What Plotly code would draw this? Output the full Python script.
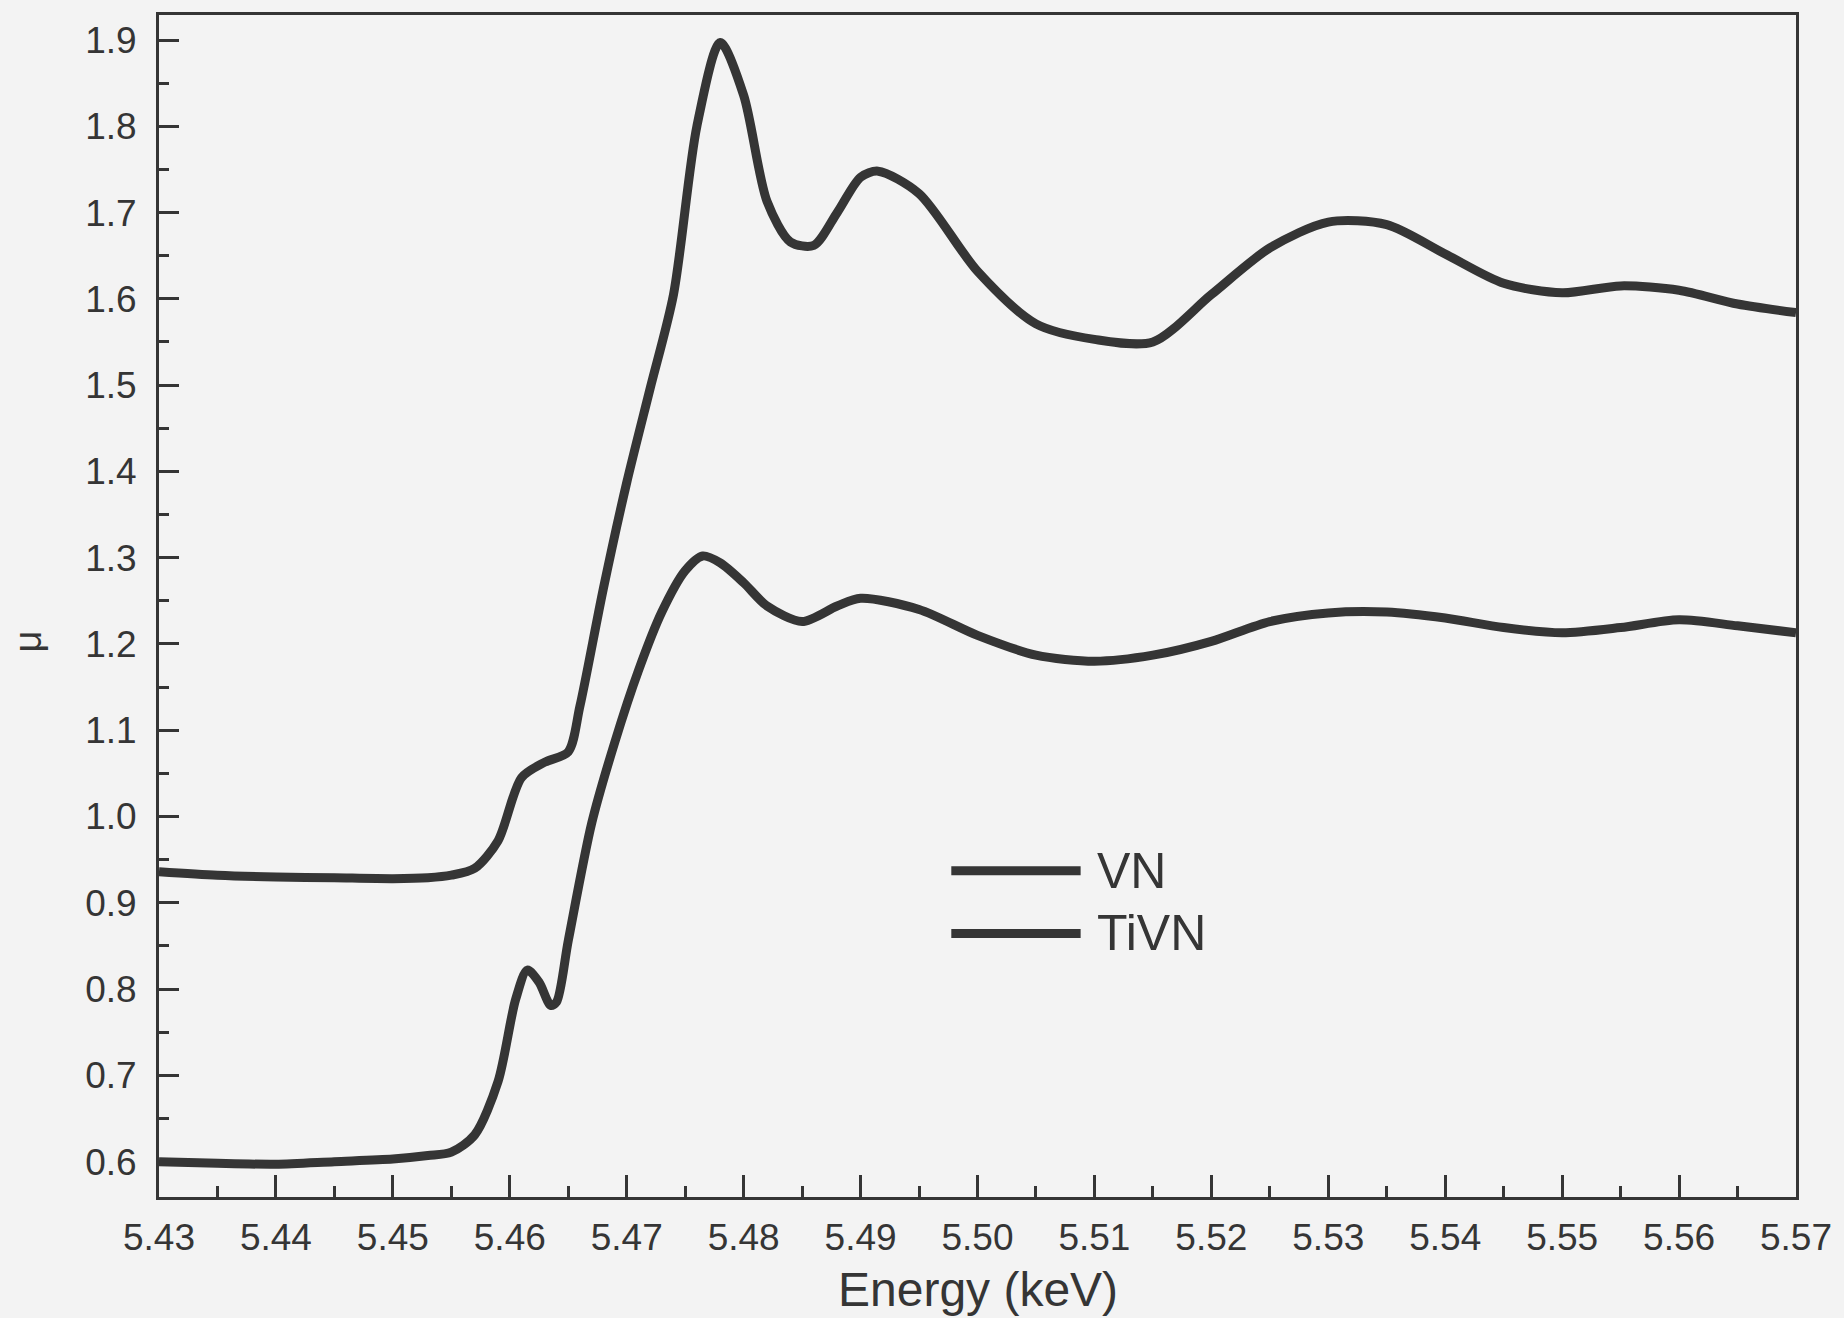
import plotly.graph_objects as go

# Upper curve
vn_x = [5.430, 5.435, 5.440, 5.445, 5.450, 5.453, 5.455, 5.457, 5.459, 5.461, 5.463, 5.465,
        5.466, 5.468, 5.470, 5.472, 5.474, 5.476, 5.478, 5.480, 5.482, 5.484, 5.486, 5.488,
        5.490, 5.4915, 5.495, 5.500, 5.505, 5.510, 5.515, 5.520, 5.525, 5.530, 5.535, 5.540,
        5.545, 5.550, 5.555, 5.560, 5.565, 5.570]
vn_y = [0.936, 0.932, 0.930, 0.929, 0.928, 0.929, 0.932, 0.940, 0.972, 1.045, 1.063, 1.075,
        1.128, 1.264, 1.387, 1.496, 1.605, 1.800, 1.897, 1.836, 1.713, 1.666, 1.662, 1.700,
        1.741, 1.748, 1.722, 1.632, 1.571, 1.553, 1.550, 1.605, 1.659, 1.689, 1.686, 1.652,
        1.618, 1.607, 1.615, 1.610, 1.594, 1.584]

# Lower curve
tivn_x = [5.430, 5.435, 5.440, 5.445, 5.450, 5.453, 5.455, 5.457, 5.459, 5.4605, 5.4615, 5.4625,
          5.4635, 5.464, 5.465, 5.467, 5.469, 5.471, 5.473, 5.475, 5.4765, 5.478, 5.480, 5.482,
          5.485, 5.488, 5.490, 5.495, 5.500, 5.505, 5.510, 5.515, 5.520, 5.525, 5.530, 5.535,
          5.540, 5.545, 5.550, 5.555, 5.560, 5.565, 5.570]
tivn_y = [0.600, 0.598, 0.597, 0.600, 0.603, 0.607, 0.611, 0.631, 0.693, 0.788, 0.822, 0.808,
          0.781, 0.785, 0.856, 0.992, 1.087, 1.169, 1.237, 1.285, 1.302, 1.294, 1.271, 1.244,
          1.226, 1.244, 1.253, 1.240, 1.210, 1.187, 1.180, 1.187, 1.203, 1.226, 1.236, 1.237,
          1.230, 1.219, 1.213, 1.219, 1.228, 1.221, 1.213]

series_names = ["VN", "TiVN"]

x_ticks = [5.43, 5.44, 5.45, 5.46, 5.47, 5.48, 5.49, 5.50, 5.51, 5.52, 5.53, 5.54, 5.55, 5.56, 5.57]
y_ticks = [0.6, 0.7, 0.8, 0.9, 1.0, 1.1, 1.2, 1.3, 1.4, 1.5, 1.6, 1.7, 1.8, 1.9]

INK = "#353535"
BG = "#f3f3f3"
FONT = "Liberation Sans, Arial, sans-serif"

fig = go.Figure()
for name, xs, ys in [(series_names[0], vn_x, vn_y), (series_names[1], tivn_x, tivn_y)]:
    fig.add_trace(go.Scatter(x=xs, y=ys, mode="lines", name=name,
                             line=dict(color=INK, width=9, shape="spline", smoothing=0.8),
                             showlegend=False))

axis_common = dict(showline=True, linecolor=INK, linewidth=3, mirror=True,
                   ticks="inside", tickcolor=INK, tickwidth=3, showgrid=False,
                   zeroline=False, tickfont=dict(family=FONT, size=37, color=INK))

fig.update_xaxes(range=[5.43, 5.57], tickvals=x_ticks,
                 ticktext=[f"{v:.2f}" for v in x_ticks], ticklen=22,
                 minor=dict(dtick=0.005, ticks="inside", ticklen=11, tickwidth=3, tickcolor=INK),
                 ticklabelstandoff=6,
                 **axis_common)
fig.update_yaxes(range=[0.559, 1.929], tickvals=y_ticks,
                 ticktext=[f"{v:.1f}" for v in y_ticks], ticklen=20,
                 minor=dict(dtick=0.05, ticks="inside", ticklen=10, tickwidth=3, tickcolor=INK),
                 ticklabelstandoff=12,
                 **axis_common)

# axis titles placed as in the original
fig.add_annotation(xref="paper", yref="paper", x=0.5, y=-0.1015, text="Energy (keV)",
                   showarrow=False, xanchor="center", yanchor="bottom", borderpad=0,
                   font=dict(family=FONT, size=48, color=INK))
fig.add_annotation(xref="paper", yref="paper", x=-0.080, y=0.470, text="μ", textangle=-90,
                   showarrow=False, xanchor="center", yanchor="middle",
                   font=dict(family=FONT, size=38, color=INK))

# custom legend (long sample lines as in the original)
legend_rows = [(0.276, series_names[0]), (0.223, series_names[1])]
for yy, name in legend_rows:
    fig.add_shape(type="line", xref="paper", yref="paper", x0=0.484, x1=0.563, y0=yy, y1=yy,
                  line=dict(color=INK, width=9))
    fig.add_annotation(xref="paper", yref="paper", x=0.572, y=yy, text=name, showarrow=False,
                       xanchor="left", yanchor="middle",
                       font=dict(family=FONT, size=50, color=INK))

fig.update_layout(width=1844, height=1318, paper_bgcolor=BG, plot_bgcolor=BG,
                  margin=dict(l=159, r=45, t=14, b=121), showlegend=False)

fig.write_html("out.html", config={"displayModeBar": False})

# remove the default page margin so the figure fills the window exactly
with open("out.html", "r", encoding="utf-8") as f:
    html = f.read()
html = html.replace("<head>", "<head><style>html,body{margin:0;padding:0;background:%s;}</style>" % BG, 1)
with open("out.html", "w", encoding="utf-8") as f:
    f.write(html)
